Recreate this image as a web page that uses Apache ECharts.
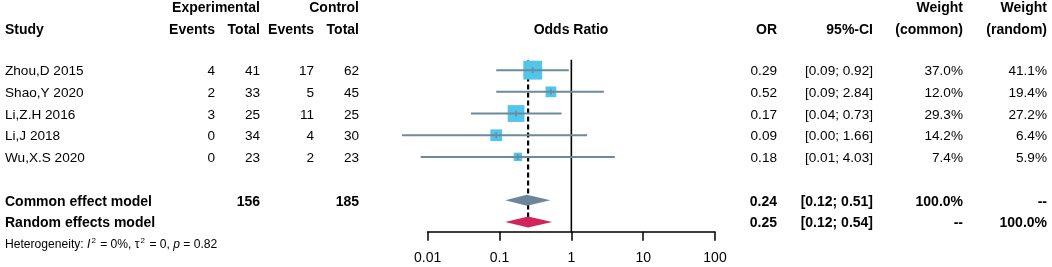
<!DOCTYPE html>
<html>
<head>
<meta charset="utf-8">
<script src="https://cdn.jsdelivr.net/npm/echarts@6/dist/echarts.min.js"></script>
<style>
html, body { margin: 0; padding: 0; background: #fff; }
#forest { width: 1052px; height: 267px; }
</style>
</head>
<body>
<div id="forest"></div>
<script>
// study data
var studies = ['Zhou,D 2015', 'Shao,Y 2020', 'Li,Z.H 2016', 'Li,J 2018', 'Wu,X.S 2020'];
var expEvents = [4, 2, 3, 0, 0];
var expTotal = [41, 33, 25, 34, 23];
var ctrlEvents = [17, 5, 11, 4, 2];
var ctrlTotal = [62, 45, 25, 30, 23];
var orValue = [0.29, 0.52, 0.17, 0.09, 0.18];
var ciLower = [0.09, 0.09, 0.04, 0.0044, 0.008];
var ciUpper = [0.92, 2.84, 0.73, 1.66, 4.03];
var weightCommon = [37.0, 12.0, 29.3, 14.2, 7.4];
var weightRandom = [41.1, 19.4, 27.2, 6.4, 5.9];
// pooled estimates: [OR, lower, upper]
var commonModel = [0.24, 0.12, 0.51];
var randomModel = [0.25, 0.12, 0.54];
var pooledTotals = [156, 185];
var hetStats = ['0%', '0', '0.82'];   // I^2, tau^2, p
var tickLabels = ['0.01', '0.1', '1', '10', '100'];

var FONT = 'Liberation Sans, Arial, sans-serif';
var ROW_COMMON = 6, ROW_RANDOM = 7, ROW_HET = 8;

// column anchors (pixels)
var cols = {
  study: [5, 'left'], ee: [215, 'right'], et: [260, 'right'], ce: [314, 'right'], ct: [359, 'right'],
  orc: [777, 'right'], ci: [873, 'right'], wc: [963, 'right'], wr: [1047, 'right'], mid: [571, 'center']
};

function fmtCI(lo, hi) { return '[' + lo.toFixed(2) + '; ' + hi.toFixed(2) + ']'; }

// table cells: [column, row, text, bold]
var cells = [
  ['et', -2.95, 'Experimental', true], ['ct', -2.95, 'Control', true],
  ['wc', -2.95, 'Weight', true], ['wr', -2.95, 'Weight', true],
  ['study', -1.9, 'Study', true], ['ee', -1.9, 'Events', true], ['et', -1.9, 'Total', true],
  ['ce', -1.9, 'Events', true], ['ct', -1.9, 'Total', true], ['mid', -1.9, 'Odds Ratio', true],
  ['orc', -1.9, 'OR', true], ['ci', -1.9, '95%-CI', true], ['wc', -1.9, '(common)', true], ['wr', -1.9, '(random)', true]
];
studies.forEach(function (s, i) {
  cells.push(['study', i, s, false], ['ee', i, String(expEvents[i]), false], ['et', i, String(expTotal[i]), false],
    ['ce', i, String(ctrlEvents[i]), false], ['ct', i, String(ctrlTotal[i]), false],
    ['orc', i, orValue[i].toFixed(2), false], ['ci', i, fmtCI(ciLower[i], ciUpper[i]), false],
    ['wc', i, weightCommon[i].toFixed(1) + '%', false], ['wr', i, weightRandom[i].toFixed(1) + '%', false]);
});
cells.push(['study', ROW_COMMON, 'Common effect model', true], ['et', ROW_COMMON, String(pooledTotals[0]), true],
  ['ct', ROW_COMMON, String(pooledTotals[1]), true], ['orc', ROW_COMMON, commonModel[0].toFixed(2), true],
  ['ci', ROW_COMMON, fmtCI(commonModel[1], commonModel[2]), true], ['wc', ROW_COMMON, '100.0%', true],
  ['wr', ROW_COMMON, '--', true]);
cells.push(['study', ROW_RANDOM, 'Random effects model', true], ['orc', ROW_RANDOM, randomModel[0].toFixed(2), true],
  ['ci', ROW_RANDOM, fmtCI(randomModel[1], randomModel[2]), true], ['wc', ROW_RANDOM, '--', true],
  ['wr', ROW_RANDOM, '100.0%', true]);

var chart = echarts.init(document.getElementById('forest'));

var option = {
  animation: false,
  backgroundColor: '#fff',
  grid: { left: 427.7, right: 337, top: 5.1, bottom: 35.3 },
  xAxis: {
    type: 'log', logBase: 10, min: 0.01, max: 100, position: 'bottom',
    axisLine: { show: true, onZero: false, lineStyle: { color: '#000', width: 1.5 } },
    axisTick: { show: true, length: 9, lineStyle: { color: '#000', width: 1.5 } },
    axisLabel: {
      color: '#000', fontSize: 14, fontFamily: FONT, margin: 19,
      formatter: function (v, i) { return tickLabels[i]; }
    },
    splitLine: { show: false }
  },
  yAxis: { type: 'value', inverse: true, min: -3, max: 7.45, show: false },
  series: [
    {
      // table text
      type: 'custom', clip: false, silent: true,
      data: cells.map(function (c) { return [1, c[1]]; }),
      renderItem: function (params, api) {
        var c = cells[params.dataIndex];
        var y = api.coord([1, c[1]])[1] + 1.5;
        return {
          type: 'text',
          style: {
            text: c[2], x: cols[c[0]][0], y: y, align: cols[c[0]][1], verticalAlign: 'middle',
            fill: '#000', font: (c[3] ? 'bold 14px ' : '13.6px ') + FONT
          }
        };
      }
    },
    {
      // heterogeneity line
      type: 'custom', clip: false, silent: true,
      data: [[1, ROW_HET]],
      renderItem: function (params, api) {
        var y = api.coord([1, ROW_HET])[1] + 1;
        return {
          type: 'text',
          style: {
            x: 5, y: y, verticalAlign: 'middle',
            text: '{a|Heterogeneity: }{i|I}{s|2}{a| = ' + hetStats[0] + ', τ}{s|2}{a| = ' + hetStats[1] +
              ', }{i|p}{a| = ' + hetStats[2] + '}',
            rich: {
              a: { fontSize: 12.1, fontFamily: FONT, fill: '#000' },
              i: { fontSize: 12.1, fontFamily: FONT, fontStyle: 'italic', fill: '#000' },
              s: { fontSize: 8, fontFamily: FONT, fill: '#000', padding: [0, 1, 7, 1] }
            }
          }
        };
      }
    },
    {
      // reference lines
      type: 'custom', clip: false, silent: true,
      data: [[1]],
      renderItem: function (params, api) {
        var a = api.coord([1, -0.48]), b = api.coord([1, 7.45]);
        var d1 = api.coord([randomModel[0], -0.45]), d2 = api.coord([randomModel[0], 7.2]);
        return {
          type: 'group',
          children: [
            { type: 'line', shape: { x1: d1[0], y1: d1[1], x2: d2[0], y2: d2[1] },
              style: { stroke: '#000', lineWidth: 2.2, lineDash: [5, 3] } },
            { type: 'line', shape: { x1: a[0], y1: a[1], x2: b[0], y2: b[1] },
              style: { stroke: '#000', lineWidth: 1.6 } }
          ]
        };
      }
    },
    {
      // study estimates and CIs
      type: 'custom', clip: false, silent: true,
      data: studies.map(function (s, i) { return [orValue[i], ciLower[i], ciUpper[i], i, weightCommon[i]]; }),
      renderItem: function (params, api) {
        var row = api.value(3);
        var c = api.coord([api.value(0), row]);
        var lo = api.coord([api.value(1), row]);
        var hi = api.coord([api.value(2), row]);
        var s = 3.1 * Math.sqrt(api.value(4));
        return {
          type: 'group',
          children: [
            { type: 'rect', shape: { x: c[0] - s / 2, y: c[1] - s / 2, width: s, height: s },
              style: { fill: '#52C5EA' } },
            { type: 'line', shape: { x1: lo[0], y1: lo[1], x2: hi[0], y2: hi[1] },
              style: { stroke: '#6C8A9D', lineWidth: 2 } },
            { type: 'line', shape: { x1: c[0], y1: c[1] - 3, x2: c[0], y2: c[1] + 3 },
              style: { stroke: '#6C8A9D', lineWidth: 1.5 } }
          ]
        };
      }
    },
    {
      // pooled diamonds
      type: 'custom', clip: false, silent: true,
      data: [commonModel.concat([ROW_COMMON]), randomModel.concat([ROW_RANDOM])],
      renderItem: function (params, api) {
        var row = api.value(3);
        var c = api.coord([api.value(0), row]);
        var lo = api.coord([api.value(1), row]);
        var hi = api.coord([api.value(2), row]);
        var h = 5.5;
        return {
          type: 'polygon',
          shape: { points: [[lo[0], lo[1]], [c[0], c[1] - h], [hi[0], hi[1]], [c[0], c[1] + h]] },
          style: { fill: params.dataIndex === 0 ? '#6D8598' : '#D3245A' }
        };
      }
    }
  ]
};

chart.setOption(option);
window.addEventListener('resize', function () { chart.resize(); });
</script>
</body>
</html>
